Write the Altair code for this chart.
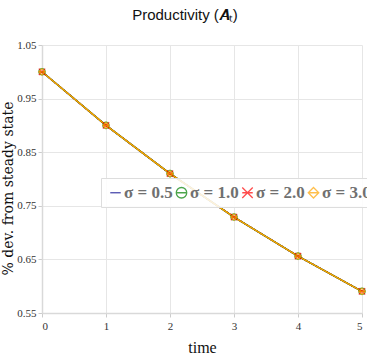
import altair as alt
import pandas as pd

# Impulse response of productivity for four values of sigma
time = [0, 1, 2, 3, 4, 5]
sigma_labels = ["σ = 0.5", "σ = 1.0", "σ = 2.0", "σ = 3.0"]
A_sigma_05 = [1.0, 0.9, 0.81, 0.729, 0.6561, 0.59049]
A_sigma_10 = [1.0, 0.9, 0.81, 0.729, 0.6561, 0.59049]
A_sigma_20 = [1.0, 0.9, 0.81, 0.729, 0.6561, 0.59049]
A_sigma_30 = [1.0, 0.9, 0.81, 0.729, 0.6561, 0.59049]

series_values = [A_sigma_05, A_sigma_10, A_sigma_20, A_sigma_30]
series_colors = ["#00008b", "#008000", "#ff0000", "#ffa500"]

# legend / marker glyphs: plain line, circle with bar, X with bar, diamond with bar
series_shapes = [
    "stroke",
    "M-1,0A1,1 0 1,1 1,0A1,1 0 1,1 -1,0M-1,0L1,0",
    "M-1,-1L1,1M-1,1L1,-1M-1,0L1,0",
    "M0,-1L1,0L0,1L-1,0ZM-1,0L1,0",
]

rows = []
for label, vals in zip(sigma_labels, series_values):
    for t, v in zip(time, vals):
        rows.append({"time": t, "A": v, "series": label})
df = pd.DataFrame(rows)

x_enc = alt.X(
    "time:Q",
    scale=alt.Scale(domain=[0, 5], nice=False),
    axis=alt.Axis(values=time, title="time", format="d"),
)
y_enc = alt.Y(
    "A:Q",
    scale=alt.Scale(domain=[0.55, 1.05], nice=False, zero=False),
    axis=alt.Axis(
        values=[0.55, 0.65, 0.75, 0.85, 0.95, 1.05],
        format=".2f",
        title="% dev. from steady state",
        titleX=-27,
        titleY=143,
    ),
)

color_scale = alt.Scale(domain=sigma_labels, range=series_colors)
shape_scale = alt.Scale(domain=sigma_labels, range=series_shapes)
color_enc = alt.Color("series:N", scale=color_scale, title=None)

# solid lines for every series except sigma = 2.0, which is dotted
solid_lines = (
    alt.Chart(df)
    .transform_filter(alt.datum.series != sigma_labels[2])
    .mark_line(strokeWidth=1.4)
    .encode(x=x_enc, y=y_enc, color=color_enc, order=alt.Order("time:Q"))
)
dotted_line = (
    alt.Chart(df)
    .transform_filter(alt.datum.series == sigma_labels[2])
    .mark_line(strokeWidth=1.6, strokeDash=[2, 2])
    .encode(x=x_enc, y=y_enc, color=color_enc, order=alt.Order("time:Q"))
)

points = (
    alt.Chart(df)
    .transform_filter(alt.datum.series != sigma_labels[0])
    .mark_point(filled=False, size=40, strokeWidth=1.3)
    .encode(
        x=x_enc,
        y=y_enc,
        color=color_enc,
        shape=alt.Shape("series:N", scale=shape_scale, title=None),
    )
)

chart = (
    alt.layer(dotted_line, solid_lines, points)
    .properties(
        width=320,
        height=268,
        autosize=alt.AutoSizeParams(type="none"),
        padding={"left": 42, "top": 45, "right": 5, "bottom": 51},
        title=alt.TitleParams(
            "Productivity (𝑨ₜ)",
            font="Liberation Sans Narrow, Liberation Sans",
            fontSize=15,
            fontWeight="normal",
            color="#111",
            anchor="middle",
            dx=-17,
            offset=16,
        ),
    )
    .configure_view(stroke=None)
    .configure_axis(
        labelFont="Liberation Serif",
        labelFontSize=11,
        labelColor="#333",
        titleFont="Liberation Serif",
        titleFontSize=16,
        titleFontWeight="normal",
        titleColor="#111",
        gridColor="#e6e6e6",
        gridWidth=1,
        domainColor="#d9d9d9",
        domainWidth=1.5,
        tickColor="#cccccc",
        tickSize=4,
    )
    .configure_axisY(titleFont="DejaVu Serif", titleFontSize=14, labelPadding=2)
    .configure_axisX(titlePadding=8, labelPadding=3)
    .configure_legend(
        orient="none",
        legendX=59,
        legendY=133,
        direction="horizontal",
        columns=4,
        columnPadding=0,
        labelOffset=0,
        padding=6,
        fillColor="rgba(255,255,255,0.85)",
        strokeColor="#dddddd",
        labelFont="Liberation Serif",
        labelFontWeight="bold",
        labelFontSize=17,
        labelColor="#707070",
        symbolSize=110,
        symbolStrokeWidth=1.3,
        labelLimit=0,
    )
)

chart.save("out.html", embed_options={"renderer": "svg", "actions": False})
